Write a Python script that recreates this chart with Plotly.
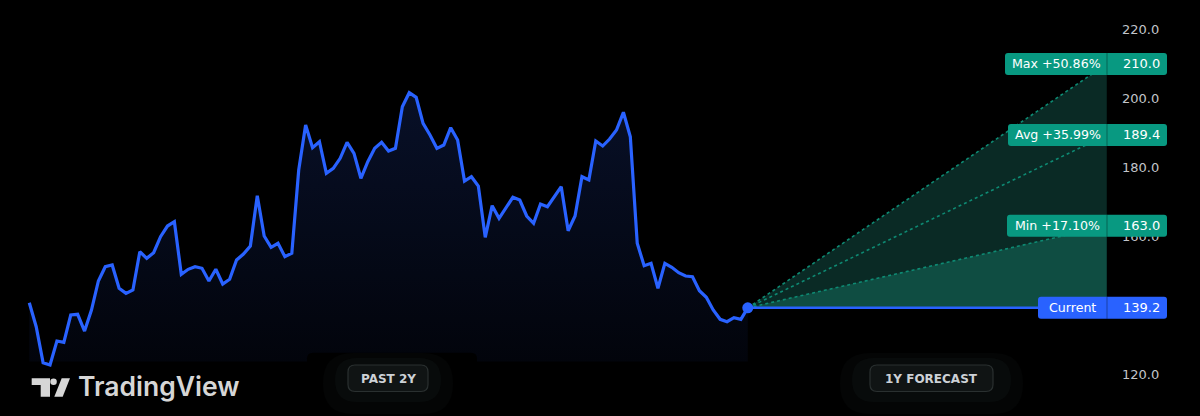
import plotly.graph_objects as go

# ---------------- data ----------------
past_prices = [140.70, 133.73, 123.29, 122.62, 129.58, 129.20, 137.13, 137.33, 132.48, 138.58,
               147.00, 151.14, 151.64, 144.88, 143.42, 144.38, 155.50, 153.58, 155.21, 159.85,
               162.95, 164.20, 148.94, 150.39, 151.14, 150.68, 147.00, 150.39, 146.12, 147.49,
               153.09, 154.83, 157.15, 171.75, 160.05, 156.77, 157.93, 154.05, 155.03, 179.20,
               192.26, 185.68, 187.42, 178.25, 179.70, 182.60, 187.24, 184.05, 176.80, 181.61,
               185.50, 187.24, 184.72, 185.50, 197.57, 201.64, 200.30, 192.76, 189.36, 185.50,
               186.46, 191.48, 187.91, 176.01, 177.26, 174.56, 159.68, 168.85, 165.19, 168.09,
               171.28, 170.50, 165.86, 163.74, 169.34, 168.56, 171.46, 174.36, 161.59, 165.86,
               177.26, 176.30, 187.62, 186.17, 188.20, 190.81, 195.95, 188.87, 157.93, 151.43,
               152.13, 144.88, 152.13, 150.97, 149.40, 148.44, 148.24, 144.18, 142.26, 138.58,
               135.88, 135.18, 136.34, 135.88, 139.20]
past_weeks = list(range(len(past_prices)))          # weekly points, past 2 years
forecast_weeks = 52                                  # 1 year ahead
current_price = 139.2
target_names = ["Max", "Avg", "Min"]
target_prices = [210.0, 189.4, 163.0]
target_pcts = ["+50.86%", "+35.99%", "+17.10%"]
price_ticks = [120, 140, 160, 180, 200, 220]
badge_texts = ["PAST 2Y", "1Y FORECAST"]
brand = "TradingView"

# ---------------- style ----------------
BLUE = "#2962ff"
TEAL = "#089981"
W, H = 1200, 416
PLOT_W = 1107
FONT = "DejaVu Sans"
area_base = 123.6

x_now = past_weeks[-1]
x_end = x_now + forecast_weeks


def X(x):
    return x / PLOT_W


def Y(y):
    return 1 - y / H


def rrect_px(x0, y0, x1, y1, r):
    return (f"M {x0+r},{y0} L {x1-r},{y0} Q {x1},{y0} {x1},{y0+r} L {x1},{y1-r} "
            f"Q {x1},{y1} {x1-r},{y1} L {x0+r},{y1} Q {x0},{y1} {x0},{y1-r} "
            f"L {x0},{y0+r} Q {x0},{y0} {x0+r},{y0} Z")


def rrect_paper(x0, y0, x1, y1, r):
    return (f"M {X(x0+r)},{Y(y0)} L {X(x1-r)},{Y(y0)} Q {X(x1)},{Y(y0)} {X(x1)},{Y(y0+r)} "
            f"L {X(x1)},{Y(y1-r)} Q {X(x1)},{Y(y1)} {X(x1-r)},{Y(y1)} L {X(x0+r)},{Y(y1)} "
            f"Q {X(x0)},{Y(y1)} {X(x0)},{Y(y1-r)} L {X(x0)},{Y(y0+r)} Q {X(x0)},{Y(y0)} {X(x0+r)},{Y(y0)} Z")


fig = go.Figure()

# past area
fig.add_trace(go.Scatter(x=past_weeks, y=[area_base] * len(past_weeks), mode="lines",
                         line=dict(width=0), hoverinfo="skip", showlegend=False))
fig.add_trace(go.Scatter(x=past_weeks, y=past_prices, mode="lines",
                         line=dict(color=BLUE, width=3.2), fill="tonexty",
                         fillgradient=dict(type="vertical",
                                           colorscale=[[0, "#02040b"], [1, "#081028"]]),
                         hoverinfo="skip", showlegend=False))

# forecast fills
fig.add_trace(go.Scatter(x=[x_now, x_end, x_end, x_now], y=[current_price, target_prices[0], current_price, current_price],
                         mode="lines", line=dict(width=0), fill="toself", fillcolor="#0a2a25",
                         hoverinfo="skip", showlegend=False))
fig.add_trace(go.Scatter(x=[x_now, x_end, x_end, x_now], y=[current_price, target_prices[2], current_price, current_price],
                         mode="lines", line=dict(width=0), fill="toself", fillcolor="#0f4d42",
                         hoverinfo="skip", showlegend=False))
for tp in target_prices:
    fig.add_trace(go.Scatter(x=[x_now, x_end], y=[current_price, tp], mode="lines",
                             line=dict(color="#0e8a73", width=1.6, dash="dot"),
                             hoverinfo="skip", showlegend=False))

# current line and dot
fig.add_trace(go.Scatter(x=[x_now, x_end], y=[current_price, current_price], mode="lines",
                         line=dict(color=BLUE, width=2.5), hoverinfo="skip", showlegend=False))
fig.add_trace(go.Scatter(x=[x_now], y=[current_price], mode="markers",
                         marker=dict(color=BLUE, size=11), hoverinfo="skip", showlegend=False))

shapes = []
annotations = []

shapes.append(dict(type="line", xref="paper", yref="y", x0=1, x1=1, y0=current_price, y1=target_prices[0],
                   line=dict(color="rgba(0,0,0,0.45)", width=1), layer="above"))

# price labels
label_specs = [(f"{n} {p}", v, TEAL, lw) for n, p, v, lw in
               zip(target_names, target_pcts, target_prices, [102, 99, 100])]
label_specs.append(("Current", current_price, BLUE, 69))
for text, val, col, lw in label_specs:
    shapes.append(dict(type="path", xref="paper", yref="y", xsizemode="pixel", ysizemode="pixel",
                       xanchor=1, yanchor=val, path=rrect_px(-lw, -11, 60, 11, 3),
                       fillcolor=col, line=dict(width=0), layer="above"))
    shapes.append(dict(type="line", xref="paper", yref="y", xsizemode="pixel", ysizemode="pixel",
                       xanchor=1, yanchor=val, x0=0, x1=0, y0=-11, y1=11,
                       line=dict(color="rgba(0,0,0,0.35)", width=1), layer="above"))
    annotations.append(dict(x=1, xref="paper", y=val, yref="y", xshift=-lw / 2, text=text,
                            showarrow=False, xanchor="center", yanchor="middle",
                            font=dict(family=FONT, size=12.6, color="#ffffff")))
    annotations.append(dict(x=1, xref="paper", y=val, yref="y", xshift=13.5, text=f"{val:.1f}",
                            showarrow=False, xanchor="left", yanchor="middle",
                            font=dict(family=FONT, size=13, color="#ffffff")))

# black cut of the area under the PAST badge
shapes.append(dict(type="path", xref="paper", yref="paper", path=rrect_paper(307, 352.7, 477, 370, 6),
                   fillcolor="#000000", line=dict(width=0), layer="above"))

# badges
badge_boxes = [(348, 428, 323, 453), (870, 993, 840, 1023)]
for (bx0, bx1, gx0, gx1), bt in zip(badge_boxes, badge_texts):
    shapes.append(dict(type="path", xref="paper", yref="paper", path=rrect_paper(gx0, 353, gx1, 414, 30),
                       fillcolor="rgba(25,35,35,0.15)", line=dict(width=0), layer="above"))
    shapes.append(dict(type="path", xref="paper", yref="paper", path=rrect_paper(gx0 + 12, 358, gx1 - 12, 402, 22),
                       fillcolor="rgba(25,35,35,0.2)", line=dict(width=0), layer="above"))
    shapes.append(dict(type="path", xref="paper", yref="paper", path=rrect_paper(bx0, 365, bx1, 391.5, 7),
                       fillcolor="#101414", line=dict(color="#2a3030", width=1.2), layer="above"))
    annotations.append(dict(x=X((bx0 + bx1) / 2), xref="paper", y=Y(378.5), yref="paper", text=f"<b>{bt}</b>",
                            showarrow=False, xanchor="center", yanchor="middle",
                            font=dict(family=FONT, size=12, color="#cdd1d6")))

# TradingView logo mark
LOGO = "#d6d6d6"
shapes.append(dict(type="path", xref="paper", yref="paper",
                   path=(f"M {X(31.7)},{Y(378.3)} L {X(50)},{Y(378.3)} L {X(50)},{Y(396.7)} L {X(40.7)},{Y(396.7)} "
                         f"L {X(40.7)},{Y(385)} L {X(31.7)},{Y(385)} Z"),
                   fillcolor=LOGO, line=dict(width=0), layer="above"))
shapes.append(dict(type="circle", xref="paper", yref="paper", x0=X(50.3), x1=X(56.8), y0=Y(378.5), y1=Y(385),
                   fillcolor=LOGO, line=dict(width=0), layer="above"))
shapes.append(dict(type="path", xref="paper", yref="paper",
                   path=(f"M {X(54.3)},{Y(396.7)} L {X(62.7)},{Y(396.7)} L {X(70)},{Y(378.3)} L {X(61.7)},{Y(378.3)} Z"),
                   fillcolor=LOGO, line=dict(width=0), layer="above"))
annotations.append(dict(x=X(76), xref="paper", y=Y(386), yref="paper", text=brand, showarrow=False,
                        xanchor="left", yanchor="middle",
                        font=dict(family="Inter", size=26.5, color=LOGO, weight=600)))

fig.update_layout(
    width=W, height=H,
    margin=dict(l=0, r=W - PLOT_W, t=0, b=0),
    paper_bgcolor="#000000", plot_bgcolor="#000000",
    showlegend=False,
    xaxis=dict(range=[-4.24, x_end], visible=False, fixedrange=True),
    yaxis=dict(range=[107.82, 228.54], side="right", tickvals=price_ticks, tickformat=".1f",
               showgrid=False, zeroline=False, showline=False, ticks="", ticklabelstandoff=14,
               tickfont=dict(family=FONT, size=13, color="#c2c5ca"), fixedrange=True),
    shapes=shapes,
    annotations=annotations,
)

fig.write_html("out.html", config={"displayModeBar": False},
               post_script="document.body.style.margin='0';document.body.style.background='#000';")
